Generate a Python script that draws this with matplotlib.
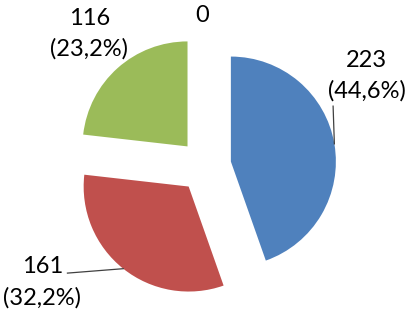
import matplotlib.pyplot as plt
import numpy as np

# dados do grafico
valores = [223, 161, 116, 0]
cores = ['#4F81BD', '#C0504D', '#9BBB59', '#8064A2']

# posicao dos rotulos (coordenadas de dados, raio = 1)
pos_rotulos = [(1.54, 0.86), (-1.55, -1.11), (-1.10, 1.26), (-0.03, 1.43)]
# inicio das linhas guia (None = sem linha)
inicio_guia = [(1.22, 0.57), (-1.31, -1.02), None, None]

explode = 0.25
total = sum(valores)

fig = plt.figure(figsize=(4.13, 3.17), dpi=100)
ax = fig.add_axes([0, 0, 1, 1])

wedges, _ = ax.pie(valores, colors=cores, startangle=90, counterclock=False,
                   explode=[explode] * len(valores), radius=1,
                   wedgeprops=dict(linewidth=0))

for i, w in enumerate(wedges):
    v = valores[i]
    if v == 0:
        texto = '0'
    else:
        pct = f'{100 * v / total:.1f}'.replace('.', ',')
        texto = f'{v}\n({pct}%)'
    ax.text(pos_rotulos[i][0], pos_rotulos[i][1], texto, ha='center', va='center',
            fontsize=17, family='Lato', linespacing=1.55, color='#000000')

    if inicio_guia[i] is not None:
        # ponto do arco no angulo medio da fatia
        ang = np.deg2rad((w.theta1 + w.theta2) / 2)
        cx, cy = w.center
        px = cx + w.r * np.cos(ang)
        py = cy + w.r * np.sin(ang)
        ax.plot([inicio_guia[i][0], px], [inicio_guia[i][1], py],
                color='#404040', lw=0.9)

ax.set_xlim(-205 / 105, (413 - 205) / 105)
ax.set_ylim(-(317 - 166) / 105, 166 / 105)
ax.set_aspect('auto')
ax.axis('off')

plt.savefig('out.png', dpi=100)
plt.close(fig)
